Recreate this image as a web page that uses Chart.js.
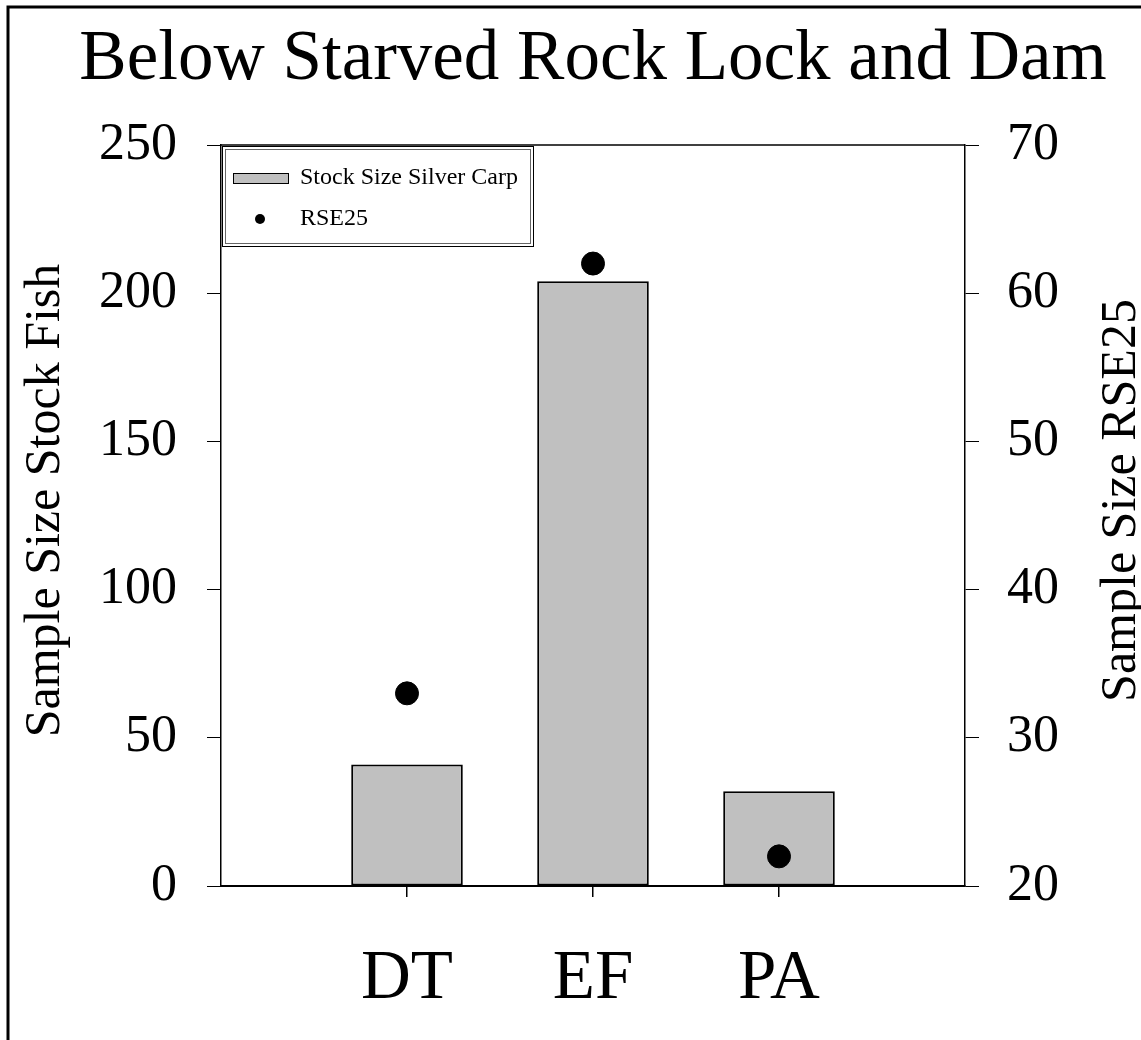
<!DOCTYPE html>
<html>
<head>
<meta charset="utf-8">
<title>Below Starved Rock Lock and Dam</title>
<script src="https://cdn.jsdelivr.net/npm/chart.js@4.4.1/dist/chart.umd.min.js"></script>
<style>
  html, body { margin: 0; padding: 0; background: #fff; }
  #wrap { position: relative; width: 1141px; height: 1040px; }
</style>
</head>
<body>
<div id="wrap"><canvas id="fishChart"></canvas></div>
<script>
'use strict';

const categories = ['DT', 'EF', 'PA'];
const stockFish = [41, 204, 32];
const rse25 = [33, 62, 22];
const leftTicks = [0, 50, 100, 150, 200, 250];
const rightTicks = [20, 30, 40, 50, 60, 70];

const chartTitle = 'Below Starved Rock Lock and Dam';
const leftTitle = 'Sample Size Stock Fish';
const rightTitle = 'Sample Size RSE25';

const SERIF = "'Liberation Serif', 'Times New Roman', serif";

// frame, title, axis titles, top edge of plot and the legend box
const extras = {
  id: 'extras',
  beforeDraw(chart) {
    const c = chart.ctx;
    c.save();
    c.fillStyle = '#fff';
    c.fillRect(0, 0, chart.width, chart.height);
    c.strokeStyle = '#000';
    c.lineWidth = 3;
    c.beginPath();
    c.moveTo(8, chart.height);
    c.lineTo(8, 7);
    c.lineTo(chart.width, 7);
    c.stroke();
    c.restore();
  },
  afterDraw(chart) {
    const c = chart.ctx;
    const a = chart.chartArea;
    const bars = chart.data.datasets[0];
    const dots = chart.data.datasets[1];
    const midX = (a.left + a.right) / 2;
    const midY = (a.top + a.bottom) / 2 - 15;
    c.save();

    c.strokeStyle = '#000';
    c.lineWidth = 1.5;
    c.beginPath();
    c.moveTo(a.left, a.top);
    c.lineTo(a.right, a.top);
    c.stroke();

    c.fillStyle = '#000';
    c.textAlign = 'center';
    c.textBaseline = 'alphabetic';
    c.font = '71px ' + SERIF;
    c.fillText(chartTitle, midX, 79);

    // both axis titles read bottom to top
    c.font = '50px ' + SERIF;
    c.textBaseline = 'middle';
    c.translate(46, midY);
    c.rotate(-Math.PI / 2);
    c.fillText(leftTitle, 0, 0);
    c.setTransform(1, 0, 0, 1, 0, 0);
    c.translate(a.right + 157, midY);
    c.rotate(-Math.PI / 2);
    c.fillText(rightTitle, 0, 0);
    c.setTransform(1, 0, 0, 1, 0, 0);

    // legend
    const bx = a.left + 1, by = a.top + 1, bw = 311, bh = 100;
    c.lineWidth = 1;
    c.strokeStyle = '#000';
    c.strokeRect(bx + 0.5, by + 0.5, bw, bh);
    c.strokeStyle = '#666';
    c.strokeRect(bx + 3.5, by + 3.5, bw - 6, bh - 6);

    c.fillStyle = bars.backgroundColor;
    c.fillRect(a.left + 12, a.top + 28, 55, 10);
    c.strokeStyle = bars.borderColor;
    c.strokeRect(a.left + 12.5, a.top + 28.5, 55, 10);

    c.fillStyle = dots.backgroundColor;
    c.beginPath();
    c.arc(a.left + 39, a.top + 74, 5, 0, Math.PI * 2);
    c.fill();

    c.fillStyle = '#000';
    c.font = '24px ' + SERIF;
    c.textAlign = 'left';
    c.textBaseline = 'middle';
    c.fillText(bars.label, a.left + 79, a.top + 33);
    c.fillText(dots.label, a.left + 79, a.top + 74);
    c.restore();
  }
};

const ctx = document.getElementById('fishChart').getContext('2d');

new Chart(ctx, {
  type: 'bar',
  data: {
    datasets: [
      {
        type: 'bar',
        label: 'Stock Size Silver Carp',
        data: categories.map((c, i) => ({ x: i + 1, y: stockFish[i] })),
        backgroundColor: '#c0c0c0',
        borderColor: '#000',
        borderWidth: 2,
        borderSkipped: false,
        barPercentage: 0.6,
        categoryPercentage: 1,
        yAxisID: 'y',
        order: 2,
      },
      {
        type: 'line',
        label: 'RSE25',
        data: categories.map((c, i) => ({ x: i + 1, y: rse25[i] })),
        showLine: false,
        pointRadius: 11.5,
        pointHoverRadius: 11.5,
        backgroundColor: '#000',
        borderColor: '#000',
        yAxisID: 'y2',
        order: 1,
      },
    ],
  },
  options: {
    responsive: true,
    maintainAspectRatio: false,
    animation: false,
    layout: { padding: { top: 145 } },
    plugins: {
      legend: { display: false },
      tooltip: { enabled: false },
    },
    scales: {
      x: {
        type: 'linear',
        min: 0,
        max: categories.length + 1,
        offset: false,
        afterFit(s) { s.height = 154; },
        border: { color: '#000', width: 2 },
        grid: {
          offset: false,
          drawOnChartArea: false,
          tickLength: 11,
          lineWidth: 1.5,
          color: (c) => (c.tick && categories[c.tick.value - 1]) ? '#000' : 'rgba(0,0,0,0)',
        },
        ticks: {
          stepSize: 1,
          autoSkip: false,
          maxRotation: 0,
          padding: 41,
          color: '#000',
          font: { family: SERIF, size: 69 },
          callback: (v) => categories[v - 1] ?? '',
        },
      },
      y: {
        position: 'left',
        min: leftTicks[0],
        max: leftTicks[leftTicks.length - 1],
        afterFit(s) { s.width = 221; },
        border: { color: '#000', width: 1.5 },
        grid: { drawOnChartArea: false, tickLength: 14, color: '#000', lineWidth: 1 },
        ticks: {
          stepSize: leftTicks[1] - leftTicks[0],
          padding: 30,
          color: '#000',
          font: { family: SERIF, size: 52 },
        },
      },
      y2: {
        position: 'right',
        min: rightTicks[0],
        max: rightTicks[rightTicks.length - 1],
        afterFit(s) { s.width = 176; },
        border: { color: '#000', width: 1.5 },
        grid: { drawOnChartArea: false, tickLength: 14, color: '#000', lineWidth: 1 },
        ticks: {
          stepSize: rightTicks[1] - rightTicks[0],
          padding: 28,
          color: '#000',
          font: { family: SERIF, size: 52 },
        },
      },
    },
  },
  plugins: [extras],
});
</script>
</body>
</html>
